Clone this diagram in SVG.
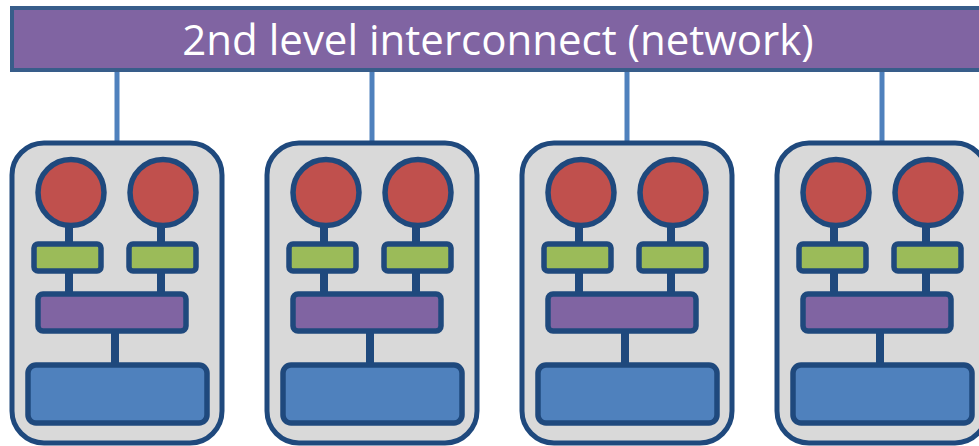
<svg xmlns="http://www.w3.org/2000/svg" width="979" height="446" viewBox="0 0 979 446">
<defs>
<style>
.bar{fill:#8064A2;stroke:#385D8A;stroke-width:4}
.bartext{fill:#fff;font-family:"Open Sans","Liberation Sans",sans-serif;font-size:42px}
.up{stroke:#4F81BD;stroke-width:5;fill:none}
.stem{stroke:#1F497D;stroke-width:8;fill:none}
.node{fill:#D9D9D9;stroke:#1F497D;stroke-width:5}
.cpu{fill:#C0504D;stroke:#1F497D;stroke-width:5.5}
.cache{fill:#9BBB59;stroke:#1F497D;stroke-width:5.5}
.bus{fill:#8064A2;stroke:#1F497D;stroke-width:5.5}
.mem{fill:#4F81BD;stroke:#1F497D;stroke-width:5.5}
</style>
<g id="tpl">
<rect class="node" x="0" y="0" width="210" height="300" rx="32"/>
<line class="stem" x1="57" y1="50" x2="57" y2="150"/>
<line class="stem" x1="149" y1="50" x2="149" y2="150"/>
<line class="stem" x1="103" y1="170" x2="103" y2="230"/>
<circle class="cpu" cx="59" cy="49.5" r="33"/>
<circle class="cpu" cx="151" cy="49.5" r="33"/>
<rect class="cache" x="22" y="101" width="67" height="27" rx="4"/>
<rect class="cache" x="117" y="101" width="67" height="27" rx="4"/>
<rect class="bus" x="26" y="151" width="148" height="37" rx="5"/>
<rect class="mem" x="16" y="222" width="179" height="58" rx="8"/>
</g>
</defs>
<g id="connectors">
<line class="up" x1="117" y1="70" x2="117" y2="145"/>
<line class="up" x1="372" y1="70" x2="372" y2="145"/>
<line class="up" x1="627" y1="70" x2="627" y2="145"/>
<line class="up" x1="882" y1="70" x2="882" y2="145"/>
</g>
<g id="interconnect">
<rect class="bar" x="12" y="8" width="975" height="62"/>
<text class="bartext" x="498" y="55" text-anchor="middle">2nd level interconnect (network)</text>
</g>
<g id="node1"><use href="#tpl" x="12" y="143"/></g>
<g id="node2"><use href="#tpl" x="267" y="143"/></g>
<g id="node3"><use href="#tpl" x="522" y="143"/></g>
<g id="node4"><use href="#tpl" x="777" y="143"/></g>
</svg>
